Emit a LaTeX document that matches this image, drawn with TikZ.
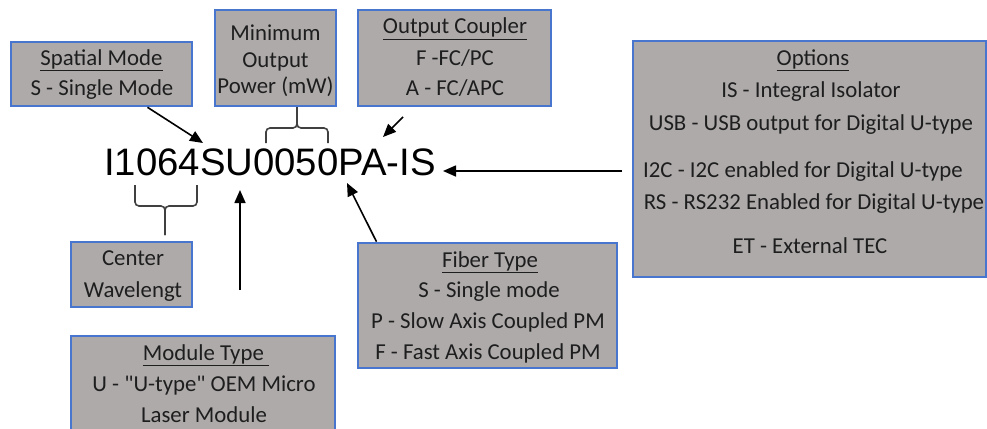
\documentclass[tikz,border=0pt]{standalone}
\usepackage{fontspec}
\setmainfont{Carlito}
\newfontfamily\qfont{Carlito}[Ligatures=TeXOff]
\newfontfamily\codefont{Liberation Sans}
\usetikzlibrary{arrows.meta,calc}
\definecolor{boxfill}{RGB}{174,170,170}
\definecolor{boxline}{RGB}{72,118,206}
\definecolor{txt}{RGB}{30,30,30}
\newcommand{\sq}{{\qfont"}}
\begin{document}
\begin{tikzpicture}[x=1pt,y=-1pt,
  box/.style={draw=boxline, fill=boxfill, line width=2.6pt, inner sep=0pt, rectangle},
  lbl/.style={text=txt, font=\fontsize{22.8}{25}\selectfont, inner sep=0pt, anchor=base},
  arr/.style={line width=1.6pt, -{Triangle[length=13pt,width=11pt]}},
  bracepath/.style={line width=1.6pt, draw=black!75, rounded corners=4pt}]
\clip (0,0) rectangle (987,428);
\fill[white] (0,0) rectangle (987,428);

% boxes
\node[box, minimum width=181, minimum height=64] (sm) at (101.5,74) {};
\node[box, minimum width=121, minimum height=96] (mop) at (275.5,58) {};
\node[box, minimum width=193, minimum height=96] (oc) at (454.5,58) {};
\node[box, minimum width=353, minimum height=236] (opt) at (809.5,159) {};
\node[box, minimum width=121, minimum height=65] (cw) at (131.5,274.5) {};
\node[box, minimum width=264, minimum height=124] (mt) at (203,398) {};
\node[box, minimum width=259, minimum height=125] (ft) at (487.5,305.5) {};

% texts
\node[lbl] (sm1) at (101.5,65) {\underline{Spatial Mode}};
\node[lbl] (sm2) at (102,95) {S - Single Mode};

\node[lbl] (mop1) at (275.5,41) {Minimum};
\node[lbl] (mop2) at (275.5,67) {Output};
\node[lbl] (mop3) at (275.5,93) {Power (mW)};

\node[lbl] (oc1) at (455,34) {\underline{Output Coupler}};
\node[lbl] (oc2) at (455,65) {F -FC/PC};
\node[lbl] (oc3) at (455,95) {A - FC/APC};

\node[lbl] (op1) at (813,65) {\underline{Options}};
\node[lbl] (op2) at (811,97) {IS - Integral Isolator};
\node[lbl] (op3) at (811,130) {USB - USB output for Digital U-type};
\node[lbl] (op4) at (803,177) {I2C - I2C enabled for Digital U-type};
\node[lbl] (op5) at (814,209) {RS - RS232 Enabled for Digital U-type};
\node[lbl] (op6) at (810,253) {ET - External TEC};

\node[lbl] (cw1) at (133,265) {Center};
\node[lbl] (cw2) at (133,297) {Wavelengt};

\node[lbl] (mt1) at (206,360) {\underline{Module Type\ }};
\node[lbl] (mt2) at (204,391) {U - \sq U-type\sq{} OEM Micro};
\node[lbl] (mt3) at (204,422) {Laser Module};

\node[lbl] (ft1) at (490,267) {\underline{Fiber Type}};
\node[lbl] (ft2) at (489,297) {S - Single mode};
\node[lbl] (ft3) at (488,328) {P - Slow Axis Coupled PM};
\node[lbl] (ft4) at (488,359) {F - Fast Axis Coupled PM};

% part number
\node[font=\codefont\fontsize{38.3}{40}\selectfont, anchor=base west, inner sep=0pt] (code) at (104,175) {I1064SU0050PA-IS};

% arrow targets and free ends
\coordinate (smtip) at (203,143);
\coordinate (ocs) at (403,117);
\coordinate (oct) at (383,137);
\coordinate (opts) at (622,171);
\coordinate (optt) at (443,171);
\coordinate (ftt) at (347,183);
\coordinate (mts) at (240,290);
\coordinate (mtt) at (240,190);

\draw[arr] ([xshift=46pt]sm.south) -- (smtip);
\draw[arr] (ocs) -- (oct);
\draw[arr] (opts) -- (optt);
\draw[arr] ([xshift=-111pt]ft.north) -- (ftt);
\draw[arr] (mts) -- (mtt);

% braces
\coordinate (ub) at (297,128);
\draw[bracepath] (266,143) -- (266,128) -- (ub) -- (297,107);
\draw[bracepath] (328,143) -- (328,128) -- (ub) -- (297,107);
\coordinate (lb) at (165,206);
\draw[bracepath] (135,185) -- (135,206) -- (lb) -- (165,235);
\draw[bracepath] (197,185) -- (197,206) -- (lb) -- (165,235);
\end{tikzpicture}
\end{document}
